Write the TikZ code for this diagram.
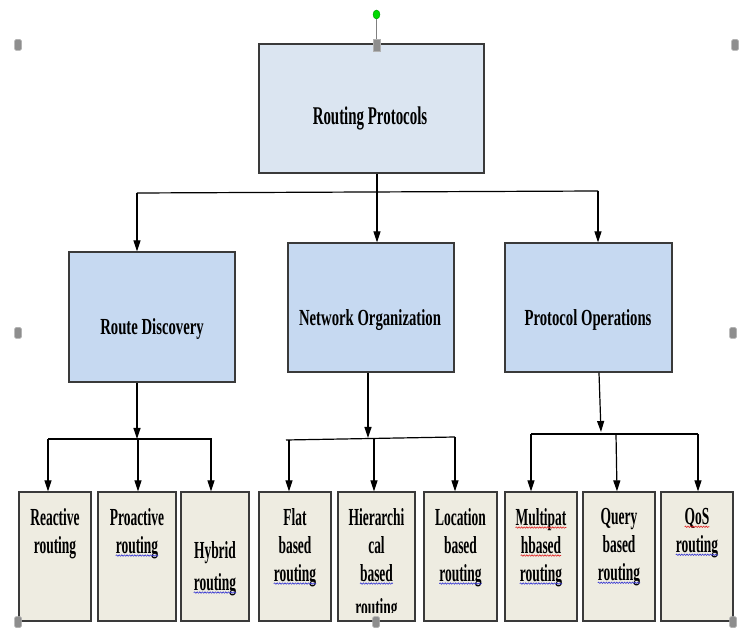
\documentclass[tikz,border=0pt]{standalone}
\usepackage{fontspec}
\setmainfont{Liberation Serif}
\newfontfamily\topfont[FakeStretch=0.585]{Liberation Serif}
\newfontfamily\upfont[FakeStretch=0.64]{Liberation Serif}
\newfontfamily\lowfont[FakeStretch=0.55]{Liberation Serif}
\usetikzlibrary{arrows.meta, shapes.geometric, decorations.pathmorphing}
\definecolor{topfill}{HTML}{DBE5F1}
\definecolor{midfill}{HTML}{C6D9F1}
\definecolor{lowfill}{HTML}{EEECE1}
\definecolor{boxline}{HTML}{3A3A3A}
\definecolor{handlegray}{HTML}{8E8E8E}
\definecolor{spellblue}{HTML}{3434D2}
\definecolor{spellred}{HTML}{E02424}
% word with a wavy spell-check line under it
\newcommand{\spell}[2]{\tikz[baseline=(w.base)]{\node[inner sep=0pt, outer sep=0pt] (w) {#2};
  \draw[#1, line width=.6pt, decorate, decoration={snake, amplitude=.7pt, segment length=2.6pt}]
    ([yshift=-2.5pt]w.base west) -- ([yshift=-2.5pt]w.base east);}}
\begin{document}
\begin{tikzpicture}[x=1pt, y=-1pt,
    topbox/.style={draw=boxline, line width=1.3pt, fill=topfill, inner sep=0pt},
    midbox/.style={draw=boxline, line width=1.3pt, fill=midfill, inner sep=0pt,
      minimum width=166pt, minimum height=129pt},
    lowbox/.style={draw=boxline, line width=1.3pt, fill=lowfill, inner sep=0pt,
      minimum height=129pt},
    uptext/.style={font=\upfont\bfseries\fontsize{23}{27}\selectfont, anchor=base, inner sep=0pt},
    lowtext/.style={font=\lowfont\bfseries\fontsize{24.5}{28}\selectfont, anchor=north,
      align=center, inner sep=0pt},
    conn/.style={line width=1.2pt, black},
    arr/.style={conn, -{Triangle[length=11pt, width=7pt]}},
    handle/.style={fill=handlegray, draw=gray!60, line width=.5pt, rounded corners=1.5pt,
      minimum width=7pt, minimum height=11pt, inner sep=0pt}]
    \fill[white] (0,0) rectangle (740,628);
    \useasboundingbox (0,0) rectangle (740,628);

    % 1. Top box
    \node[topbox, minimum width=225pt, minimum height=129pt] (top) at (371.5,108.5) {};
    \node[uptext, font=\topfont\bfseries\fontsize{25.5}{30}\selectfont] (t0) at (370,125) {Routing Protocols};

    % 2. Second row
    \node[midbox, minimum height=130pt] (rd) at (152,317) {};
    \node[uptext] (trd) at (152,335) {Route Discovery};
    \node[midbox] (no) at (371,307.5) {};
    \node[uptext] (tno) at (370,326) {Network Organization};
    \node[midbox, minimum width=167pt] (po) at (588.5,307.5) {};
    \node[uptext] (tpo) at (588,326) {Protocol Operations};

    % 3. Third row
    \node[lowbox, minimum width=72pt] (reac) at (55,556.5) {};
    \node[lowbox, minimum width=78pt] (proa) at (137,556.5) {};
    \node[lowbox, minimum width=68pt] (hybr) at (215,556.5) {};
    \node[lowbox, minimum width=72pt] (flat) at (295,556.5) {};
    \node[lowbox, minimum width=77pt] (hier) at (376.5,556.5) {};
    \node[lowbox, minimum width=73pt] (loca) at (460.5,556.5) {};
    \node[lowbox, minimum width=72pt] (mult) at (541,556.5) {};
    \node[lowbox, minimum width=72pt] (quer) at (619,556.5) {};
    \node[lowbox, minimum width=72pt] (qos) at (697,556.5) {};

    \node[lowtext] (treac) at ([yshift=-16.5pt]reac.north) {Reactive\\routing};
    \node[lowtext] (tproa) at ([yshift=-16.5pt]proa.north) {Proactive\\\spell{spellblue}{routing}};
    \node[lowtext, font=\lowfont\bfseries\fontsize{24.5}{32}\selectfont] (thybr)
      at ([yshift=-49.5pt]hybr.north) {Hybrid\\\spell{spellblue}{routing}};
    \node[lowtext] (tflat) at ([yshift=-16.5pt]flat.north) {Flat\\based\\\spell{spellblue}{routing}};
    \begin{scope}
      \clip (hier.north west) rectangle ([yshift=9pt]hier.south east);
      \node[lowtext] (thier) at ([yshift=-16.5pt]hier.north) {Hierarchi\\cal\\\spell{spellblue}{based}\\[6pt]routing};
    \end{scope}
    \node[lowtext] (tloca) at ([yshift=-16.5pt]loca.north) {Location\\based\\\spell{spellblue}{routing}};
    \node[lowtext] (tmult) at ([yshift=-16.5pt]mult.north)
      {\spell{spellred}{Multipat}\\\spell{spellred}{hbased}\\\spell{spellblue}{routing}};
    \node[lowtext] (tquer) at ([yshift=-16.5pt]quer.north) {Query\\based\\\spell{spellblue}{routing}};
    \node[lowtext] (tqos) at ([yshift=-16.5pt]qos.north) {\spell{spellred}{QoS}\\\spell{spellblue}{routing}};

    % 4. Connectors from the top box
    \coordinate (bl) at (137,193);
    \coordinate (br) at (598,191);
    \draw[conn] (bl) -- (br);
    \draw[arr] ([xshift=5.5pt]top.south) -- ([xshift=6pt]no.north);
    \draw[arr] (bl) -- (bl |- rd.north);
    \draw[arr] (br) -- (br |- po.north);

    % 5. Connectors from Route Discovery
    \coordinate (rdl) at (48,439);
    \coordinate (rdr) at (212,439);
    \draw[arr] ([xshift=-15pt]rd.south) -- ([xshift=-15pt]rd.south |- rdl);
    \draw[conn] (rdl) -- (rdr);
    \draw[arr] (rdl) -- (rdl |- reac.north);
    \draw[arr] ([xshift=1pt]proa.north |- rdl) -- ([xshift=1pt]proa.north);
    \draw[arr] ([xshift=-4pt]hybr.north |- rdl) -- ([xshift=-4pt]hybr.north);

    % 6. Connectors from Network Organization
    \coordinate (nol) at (286,440);
    \coordinate (nor) at (455,437);
    \draw[arr] ([xshift=-3pt]no.south) -- (368,438);
    \draw[conn] (nol) -- (nor);
    \draw[arr] ([xshift=-6pt]flat.north |- 0,440) -- ([xshift=-6pt]flat.north);
    \draw[arr] ([xshift=-2.5pt]hier.north |- 0,439) -- ([xshift=-2.5pt]hier.north);
    \draw[arr] (nor) -- (nor |- loca.north);

    % 7. Connectors from Protocol Operations
    \coordinate (pol) at (531,434);
    \coordinate (por) at (698,434);
    \draw[arr] ([xshift=10.5pt]po.south) -- (601,432);
    \draw[conn] (pol) -- (por);
    \draw[arr] (pol) -- (pol |- mult.north);
    \draw[arr] (616,434) -- ([xshift=-2pt]quer.north);
    \draw[arr] (por) -- (por |- qos.north);

    % 8. Selection handles
    \node[ellipse, fill=green!85!black, draw=green!60!black, line width=.4pt,
      minimum width=7pt, minimum height=9pt, inner sep=0pt] (rot) at (376.5,14.5) {};
    \node[handle, rounded corners=0pt, minimum height=12pt] (htop) at (376.5,45) {};
    \draw[gray, line width=.8pt] (rot) -- (htop);
    \foreach \hx/\hy [count=\i] in {18/45, 735/45, 18/333, 733/333, 18/622, 376/622, 733/622}
      \node[handle] (h\i) at (\hx,\hy) {};
\end{tikzpicture}
\end{document}
